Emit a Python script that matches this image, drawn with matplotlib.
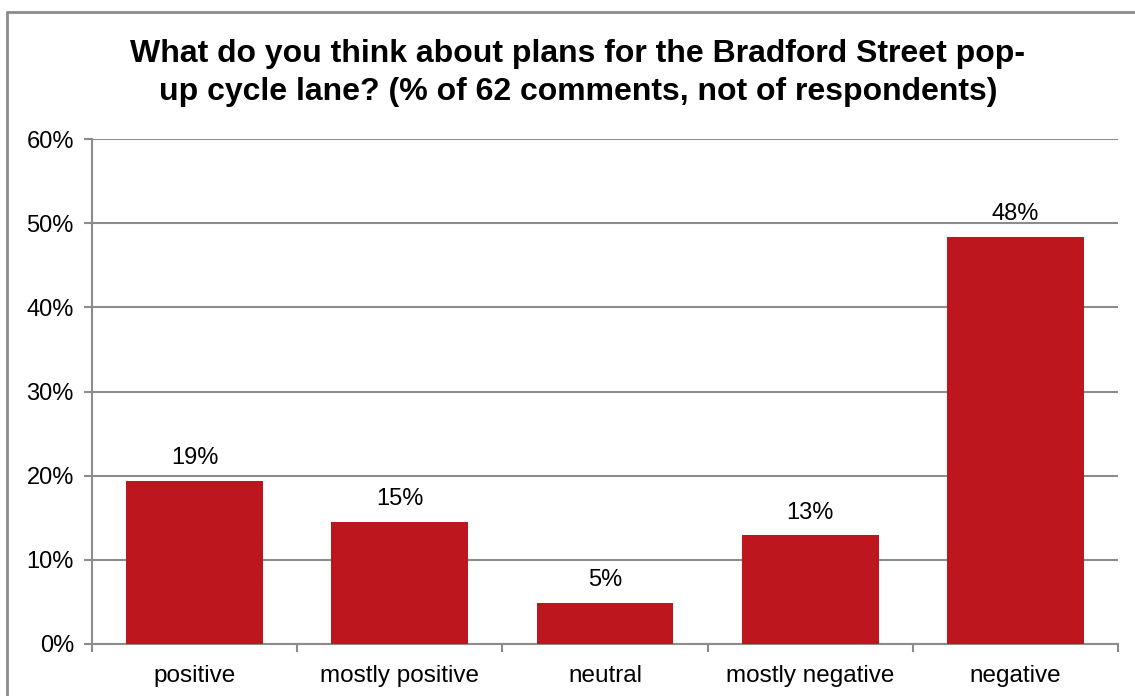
import numpy as np
import matplotlib
matplotlib.use("Agg")
from matplotlib import pyplot as plt
from matplotlib.patches import Rectangle

# comment counts per category, 62 comments in total
categories = ['positive', 'mostly positive', 'neutral', 'mostly negative', 'negative']
counts = [12, 9, 3, 8, 30]
total = 62
yticks = [0, 10, 20, 30, 40, 50, 60]

pct = np.array(counts) / total * 100

plt.rcParams['font.family'] = ['Liberation Sans', 'DejaVu Sans']
bar_col = '#BE161E'
line_col = '#8C8C8C'

fig = plt.figure(figsize=(11.35, 6.96), dpi=100)
W, H = 1135, 696
# plot area in pixels: left 92, right 1118, top 139, bottom 644
ax = fig.add_axes([92 / W, 1 - 644 / H, (1118 - 92) / W, (644 - 139) / H])

x = np.arange(len(categories))
ax.bar(x, pct, width=0.667, color=bar_col, zorder=3)
for xi, v in zip(x, pct):
    ax.text(xi, v + 1.4, '%d%%' % round(v), ha='center', va='bottom', fontsize=17)

ax.set_xlim(-0.5, len(categories) - 0.5)
ax.set_ylim(0, 60)
ax.set_yticks(yticks)
ax.set_yticklabels(['%d%%' % t for t in yticks], fontsize=17)
ax.yaxis.grid(True, color=line_col, linewidth=1.5, zorder=0)
ax.set_xticks(x)
ax.set_xticklabels(categories, fontsize=17.5)
ax.set_xticks(np.arange(-0.5, len(categories)), minor=True)
ax.tick_params(axis='x', which='major', length=0, pad=15)
ax.tick_params(axis='x', which='minor', length=6, width=1.5, color=line_col)
ax.tick_params(axis='y', length=6, width=1.5, color=line_col, pad=7)

for side in ['top', 'right']:
    ax.spines[side].set_visible(False)
for side in ['left', 'bottom']:
    ax.spines[side].set_color(line_col)
    ax.spines[side].set_linewidth(1.5)

fig.text(578 / W, 1 - 73 / H,
         'What do you think about plans for the Bradford Street pop-\n'
         'up cycle lane? (% of 62 comments, not of respondents)',
         ha='center', va='center', fontsize=23, fontweight='bold', linespacing=1.35)

# chart frame, cut off at the right and bottom
fig.patches.append(Rectangle((7 / W, -0.05), 1.2, 1 - 12 / H + 0.05, transform=fig.transFigure,
                             fill=False, edgecolor=line_col, linewidth=2))

fig.savefig('out.png', dpi=100)
